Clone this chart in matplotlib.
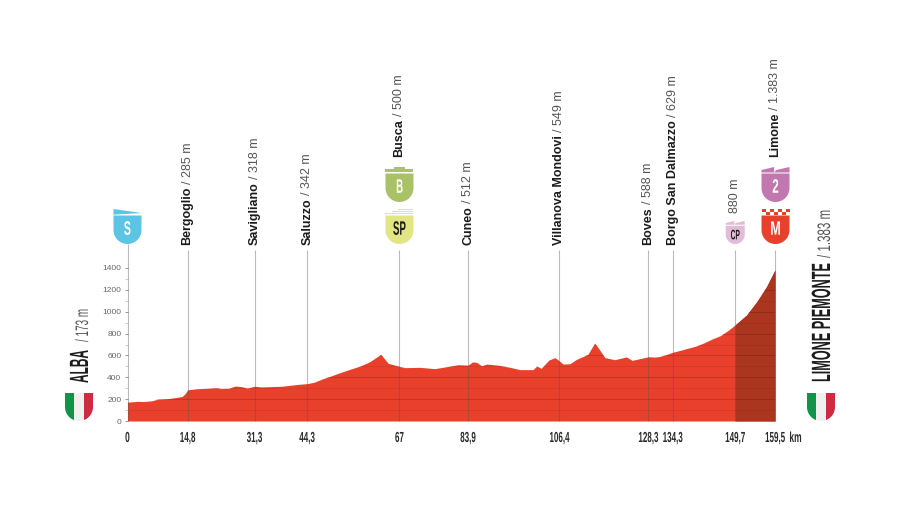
import numpy as np
import matplotlib
matplotlib.use('Agg')
import matplotlib.pyplot as plt
import matplotlib.patheffects as pe
from matplotlib.patches import Polygon, Rectangle
from matplotlib.text import Text
from matplotlib.transforms import Affine2D, Bbox, blended_transform_factory

# perfil de la etapa
km = [0, 1, 2.5, 4, 6, 7.5, 10, 12, 13.5, 14.3, 14.8, 17, 20, 22, 23, 25, 26.5, 28, 29.5, 31.3, 33, 38, 42, 44.3,
      46, 48, 50, 52.3, 54.8, 57.3, 59.7, 62.4, 64.2, 67, 68.3, 72, 75.7, 78.6, 81.4, 83.9, 85, 86, 87.2, 88.5,
      91.7, 94.2, 96.7, 99.9, 100.8, 101.9, 103.8, 105.3, 106.4, 107.3, 109, 110.6, 113.4, 115.1, 116.2, 117.6,
      120, 122.9, 124.3, 126.2, 128.3, 130, 131, 132.5, 134.3, 136, 138, 140, 142, 144, 146, 148, 149.7, 152.5,
      155, 157.4, 159.5]
alt = [173, 175, 180, 178, 185, 200, 205, 215, 225, 255, 285, 295, 300, 305, 298, 300, 320, 315, 302, 318, 312,
       318, 335, 342, 355, 385, 410, 442, 473, 503, 543, 610, 528, 500, 488, 491, 479, 497, 515, 512, 540, 537,
       506, 521, 509, 491, 470, 470, 503, 482, 558, 580, 549, 521, 524, 564, 610, 714, 656, 580, 561, 586, 555,
       570, 588, 585, 590, 605, 629, 645, 665, 685, 715, 750, 780, 830, 880, 970, 1091, 1229, 1383]

# puntos de paso
pasos = [14.8, 31.3, 44.3, 67, 83.9, 106.4, 128.3, 134.3, 149.7, 159.5]
pasos_txt = ['14,8', '31,3', '44,3', '67', '83,9', '106,4', '128,3', '134,3', '149,7', '159,5']
nombres = ['Bergoglio', 'Savigliano', 'Saluzzo', 'Busca', 'Cuneo', 'Villanova Mondovi', 'Boves',
           'Borgo San Dalmazzo', '', 'Limone']
alturas = ['285 m', '318 m', '342 m', '500 m', '512 m', '549 m', '588 m', '629 m', '880 m', '1.383 m']
y_texto = [245, 245, 245, 157, 245, 245, 245, 245, 213, 157]

rojo = '#E8402A'
oscuro = '#AC3520'
gris = '#555555'
fuente = 'Liberation Sans'

fig = plt.figure(figsize=(9, 5.07), dpi=100)
W, H = 900, 507
ax = fig.add_axes([127.5 / W, 1 - 421 / H, 647.5 / W, 153 / H])
ax.set_xlim(0, 159.5)
ax.set_ylim(0, 1400)
for s in ax.spines.values():
    s.set_visible(False)

capa = fig.add_axes([0, 0, 1, 1], zorder=5)
capa.set_xlim(0, W)
capa.set_ylim(H, 0)
capa.axis('off')

km_a = np.array(km, dtype=float)
alt_a = np.array(alt, dtype=float)
relleno = ax.fill_between(km_a, 0, alt_a, color=rojo, lw=0, zorder=1)
ax.fill_between(km_a, 0, alt_a, where=km_a >= 149.7, color=oscuro, lw=0, zorder=2)

# lineas horizontales solo dentro del perfil
for y, a in zip(range(100, 1400, 100), [0.07, 0.16] * 7):
    l = ax.hlines(y, 0, 159.5, color='black', lw=0.7, alpha=a, zorder=3)
    l.set_clip_path(relleno.get_paths()[0], ax.transData)

ax.set_yticks(range(0, 1401, 200))
ax.set_yticks(range(100, 1400, 200), minor=True)
ax.tick_params(axis='y', which='major', length=2.5, width=0.6, color='#888888', labelsize=6,
               labelcolor='#666666', pad=2)
ax.tick_params(axis='y', which='minor', length=2, width=0.5, color='#bbbbbb')
ax.set_xticks([])
ax.axhline(0, color='#bbbbbb', lw=0.6, zorder=3)
for t in ax.get_yticklabels():
    t.set_family(fuente)

def px(k):
    return ax.transData.transform((k, 0))[0]

mezcla = blended_transform_factory(ax.transData, capa.transData)

# lineas verticales
ax.vlines(pasos, 0, 1565, color='#555555', lw=0.8, alpha=0.4, clip_on=False, zorder=4)
ax.vlines([0], 0, 1620, color='#555555', lw=0.8, alpha=0.4, clip_on=False, zorder=4)

# no hay fuente condensada instalada: se estrecha el texto al dibujarlo
class Estrechar(pe.AbstractPathEffect):
    def __init__(self, factor, centrado):
        super().__init__()
        self.factor = factor
        self.centrado = centrado

    def draw_path(self, renderer, gc, tpath, affine, rgbFace=None):
        ext = tpath.get_extents()
        x0 = (ext.x0 + ext.x1) / 2 if self.centrado else 0
        m = Affine2D().translate(-x0, 0).scale(self.factor, 1).translate(x0, 0)
        renderer.draw_path(gc, tpath, m + affine, rgbFace)

class TextoEstrecho(Text):
    def __init__(self, x, y, s, factor=0.55, centrado=True, **kw):
        super().__init__(x, y, s, **kw)
        self.factor = factor
        self.centrado = centrado
        self.set_path_effects([Estrechar(factor, centrado)])

    def get_window_extent(self, renderer=None, dpi=None):
        bb = super().get_window_extent(renderer, dpi)
        f = self.factor
        if self.get_rotation() == 90:
            # el texto empieza abajo en pantalla
            if self.centrado:
                c = (bb.y0 + bb.y1) / 2
                return Bbox([[bb.x0, c - bb.height * f / 2], [bb.x1, c + bb.height * f / 2]])
            return Bbox([[bb.x0, bb.y0], [bb.x1, bb.y0 + bb.height * f]])
        c = (bb.x0 + bb.x1) / 2
        return Bbox([[c - bb.width * f / 2, bb.y0], [c + bb.width * f / 2, bb.y1]])

def estrecho(x, y, s, factor=0.55, centrado=True, trans=None, **kw):
    t = TextoEstrecho(x, y, s, factor, centrado, transform=trans or capa.transData, family=fuente, **kw)
    capa.add_artist(t)
    return t

rend = fig.canvas.get_renderer()

def vertical(x, y, fuerte, debil, trans, size):
    # texto girado en dos partes: negrita y despues gris
    yy = y
    if fuerte:
        t = capa.text(x, yy, fuerte, rotation=90, ha='center', va='bottom', transform=trans, fontsize=size,
                      family=fuente, fontweight='bold', color='#1c1c1c')
        yy -= t.get_window_extent(rend).height + 3
    capa.text(x, yy, debil, rotation=90, ha='center', va='bottom', transform=trans, fontsize=size,
              family=fuente, color=gris)

for k, n, a, y in zip(pasos, nombres, alturas, y_texto):
    vertical(k, y, n, ('/ ' + a) if n else a, mezcla, 9)

def grande(x, y, fuerte, f1, debil, y2, f2):
    # nombre de salida y llegada, sobre la misma linea base
    comun = dict(rotation=90, rotation_mode='anchor', ha='left', va='baseline', centrado=False)
    estrecho(x, y, fuerte, f1, fontsize=19, fontweight='bold', color='#1c1c1c', **comun)
    estrecho(x, y2, debil, f2, fontsize=13, color=gris, **comun)

grande(88, 383, 'ALBA', 0.45, '/ 173 m', 342, 0.55)
grande(830, 382, 'LIMONE PIEMONTE', 0.48, '/ 1.383 m', 258, 0.64)

# etiquetas de kilometros
estrecho(0, 438, '0', 0.58, trans=mezcla, ha='center', va='center', fontsize=10.5, color='#2a2a2a', fontweight='bold')
for k, s in zip(pasos, pasos_txt):
    estrecho(k, 438, s, 0.55, trans=mezcla, ha='center', va='center', fontsize=10.5, color='#2a2a2a',
             fontweight='bold')
estrecho(795.5, 438, 'km', 0.58, ha='center', va='center', fontsize=10.5, color='#2a2a2a', fontweight='bold')

def escudo(cx, arriba, abajo, ancho):
    r = ancho / 2
    ang = np.linspace(np.pi, 0, 30)
    xs = cx + r * np.cos(ang)
    ys = abajo - r + r * np.sin(ang)
    return np.vstack([[cx - r, arriba], np.column_stack([xs, ys]), [cx + r, arriba]])

def badge(cx, arriba, abajo, ancho, color, letra, col_letra, size, factor, tapa):
    h = 5.5 * ancho / 28
    capa.add_patch(Polygon(escudo(cx, arriba + h + 1, abajo, ancho), color=color, lw=0))
    r = ancho / 2
    if tapa == 'bloque':
        capa.add_patch(Rectangle((cx - r, arriba + 2), ancho, 3, color=color, lw=0))
        capa.add_patch(Rectangle((cx - r * 0.4, arriba), r * 0.8, 3, color=color, lw=0))
    elif tapa == 'sprint':
        capa.add_patch(Rectangle((cx - r, arriba + 3.7), ancho, 1.6, color=color, lw=0))
        capa.add_patch(Rectangle((cx - r * 0.5, arriba + 1.9), r * 1.5, 1.2, color=color, lw=0))
        capa.add_patch(Rectangle((cx - r * 0.1, arriba), r * 1.1, 1.2, color=color, lw=0))
    elif tapa == 'salida':
        capa.add_patch(Polygon([(cx - r, arriba), (cx + r, arriba + 4), (cx - r, arriba + 5.7)], color=color, lw=0))
    elif tapa == 'monte':
        capa.add_patch(Polygon([(cx - r, arriba + h), (cx - r, arriba + h * 0.55), (cx - 0.1 * r, arriba),
                                (cx - 0.1 * r, arriba + h), (cx + 0.05 * r, arriba + h * 0.55), (cx + r, arriba),
                                (cx + r, arriba + h)], color=color, lw=0))
    elif tapa == 'meta':
        for i in range(7):
            for j in range(2):
                if (i + j) % 2 == 0:
                    capa.add_patch(Rectangle((cx - r + i * ancho / 7, arriba + j * 3), ancho / 7, 3, color=color, lw=0))
    estrecho(cx, (arriba + h + 1 + abajo) / 2 + 0.5, letra, factor, ha='center', va='center', fontweight='bold',
             fontsize=size, color=col_letra)

badge(px(0), 209, 244, 28, '#5CC4E4', 'S', 'white', 14, 0.55, 'salida')
badge(px(67), 167, 202, 28, '#A9C267', 'B', 'white', 14, 0.5, 'bloque')
badge(px(67), 209, 244, 28, '#E2E584', 'SP', '#1c1c1c', 14, 0.5, 'sprint')
badge(px(149.7), 221, 244, 19, '#E3BAD8', 'CP', '#1c1c1c', 10, 0.48, 'monte')
badge(px(159.5) + 0.5, 167, 202, 28, '#C278AE', '2', 'white', 14, 0.6, 'monte')
badge(px(159.5) + 0.5, 209, 244, 28, '#E8402A', 'M', 'white', 14, 0.65, 'meta')

def bandera(cx):
    forma = Polygon(escudo(cx, 393, 421, 28), transform=capa.transData, fc='none', ec='none')
    capa.add_patch(forma)
    for i, c in enumerate(['#12934A', '#F0F0EE', '#CF2A3F']):
        r = Rectangle((cx - 14 + i * 28 / 3, 393), 28 / 3, 28, color=c, lw=0)
        capa.add_patch(r)
        r.set_clip_path(forma)

bandera(79)
bandera(821)

fig.savefig('out.png', dpi=100)
